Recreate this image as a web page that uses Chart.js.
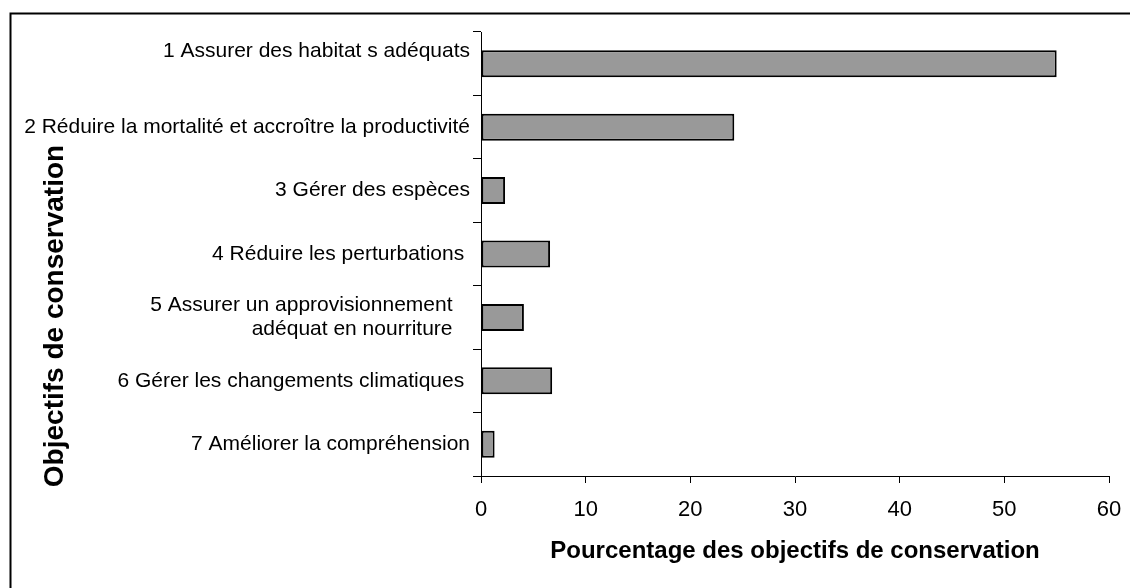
<!DOCTYPE html>
<html>
<head>
<meta charset="utf-8">
<script src="https://cdn.jsdelivr.net/npm/chart.js@4/dist/chart.umd.min.js"></script>
<style>
  html, body { margin: 0; padding: 0; background: #ffffff; }
  #c { display: block; }
</style>
</head>
<body>
<canvas id="c" width="1130" height="588"></canvas>
<script>
// ---- data ----
const categories = [
  ['1 Assurer des habitat s adéquats', ''],
  '2 Réduire la mortalité et accroître la productivité',
  '3 Gérer des espèces',
  '4 Réduire les perturbations ',
  ['5 Assurer un approvisionnement   ', 'adéquat en nourriture   '],
  '6 Gérer les changements climatiques ',
  '7 Améliorer la compréhension'
];
const values = [55, 24.2, 2.3, 6.6, 4.1, 6.8, 1.3];
const xTicks = [0, 10, 20, 30, 40, 50, 60];
const xTitle = 'Pourcentage des objectifs de conservation';
const yTitle = 'Objectifs de conservation';

const FONT = "'Liberation Sans', Arial, Helvetica, sans-serif";

const framePlugin = {
  id: 'frame',
  beforeDraw(chart) {
    const ctx = chart.ctx;
    ctx.save();
    ctx.strokeStyle = '#000';
    ctx.lineWidth = 2;
    ctx.beginPath();
    ctx.moveTo(10.5, chart.height);
    ctx.lineTo(10.5, 13.5);
    ctx.lineTo(chart.width, 13.5);
    ctx.stroke();
    ctx.restore();
  }
};

const yTitlePlugin = {
  id: 'yTitle',
  afterDraw(chart) {
    const ctx = chart.ctx;
    ctx.save();
    ctx.translate(63, 316);
    ctx.rotate(-Math.PI / 2);
    ctx.font = "bold 28px " + FONT;
    ctx.fillStyle = '#000';
    ctx.textAlign = 'center';
    ctx.textBaseline = 'alphabetic';
    ctx.fillText(yTitle, 0, 0);
    ctx.restore();
  }
};

new Chart(document.getElementById('c'), {
  type: 'bar',
  data: {
    labels: categories,
    datasets: [{
      data: values,
      backgroundColor: '#999999',
      borderColor: '#000000',
      borderWidth: 2,
      borderSkipped: false,
      categoryPercentage: 1.0,
      barPercentage: 0.426
    }]
  },
  options: {
    indexAxis: 'y',
    responsive: false,
    animation: false,
    devicePixelRatio: 1,
    layout: { padding: { top: 32, right: 21, left: 0, bottom: 0 } },
    plugins: {
      legend: { display: false },
      tooltip: { enabled: false },
      title: { display: false }
    },
    scales: {
      y: {
        type: 'category',
        afterFit(scale) { scale.width = 481; scale.paddingTop = 0; scale.paddingBottom = 0; },
        grid: {
          display: true,
          drawOnChartArea: false,
          drawTicks: true,
          tickLength: 8,
          color: '#000',
          offset: true
        },
        border: { display: true, color: '#000', width: 1 },
        ticks: {
          color: '#000',
          padding: 3,
          font: { family: FONT, size: 21, lineHeight: 1.15 }
        }
      },
      x: {
        type: 'linear',
        min: 0,
        max: 60,
        afterFit(scale) { scale.height = 112; scale.paddingRight = 0; scale.paddingLeft = 0; },
        afterBuildTicks(scale) { scale.ticks = xTicks.map(v => ({ value: v })); },
        grid: {
          display: true,
          drawOnChartArea: false,
          drawTicks: true,
          tickLength: 7,
          color: '#000'
        },
        border: { display: true, color: '#000', width: 1 },
        ticks: {
          color: '#000',
          padding: 14,
          font: { family: FONT, size: 22 }
        },
        title: {
          display: true,
          text: xTitle,
          color: '#000',
          padding: { top: 0, bottom: 22 },
          font: { family: FONT, size: 24, weight: 'bold' }
        }
      }
    }
  },
  plugins: [framePlugin, yTitlePlugin]
});
</script>
</body>
</html>
